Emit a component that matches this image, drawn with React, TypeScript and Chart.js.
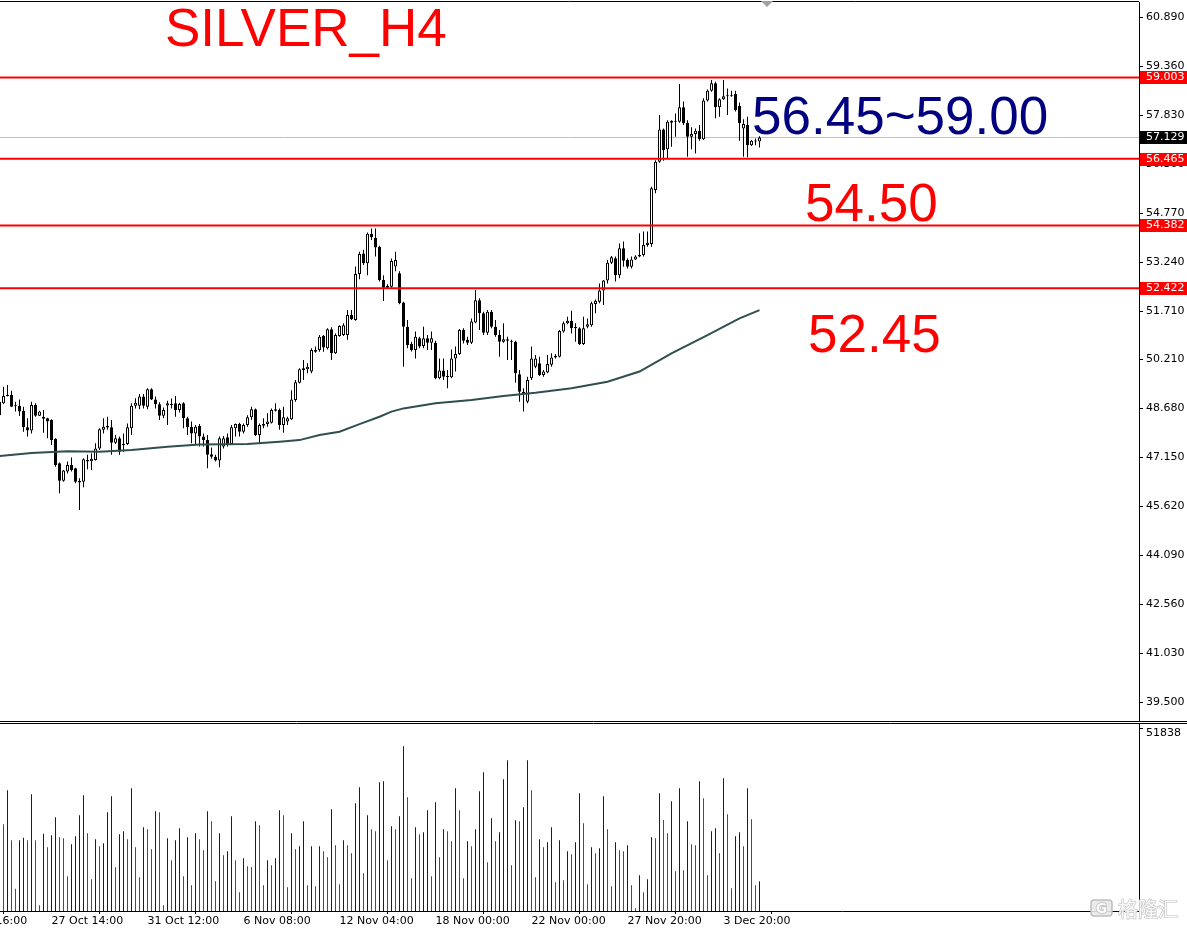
import React, { useEffect, useRef } from "react";
import { Chart, registerables } from "chart.js";

Chart.register(...registerables);

// ---- Candles (H4), index 0 .. 190 ----
const opens = [
  48.88, 48.83, 49.10, 49.09, 48.75, 48.75, 48.60, 48.08, 47.98, 48.78,
  48.44, 48.41, 48.36, 48.31, 47.72, 46.96, 46.41, 46.70, 46.90, 46.80,
  46.41, 46.38, 47.01, 47.02, 47.06, 47.42, 48.00, 48.12, 48.08, 47.60,
  47.74, 47.56, 47.56, 48.05, 48.75, 48.75, 49.04, 48.72, 49.27, 48.95,
  48.80, 48.44, 48.76, 48.78, 48.83, 48.62, 48.83, 48.36, 48.10, 47.89,
  48.12, 47.79, 47.68, 47.24, 47.16, 47.04, 47.48, 47.77, 47.56, 48.05,
  48.18, 47.94, 48.15, 48.39, 48.64, 47.84, 48.13, 48.18, 48.22, 48.64,
  48.62, 48.15, 48.26, 48.33, 48.93, 49.47, 49.92, 49.89, 49.82, 50.49,
  50.49, 50.93, 50.55, 51.14, 50.39, 50.93, 50.96, 50.96, 51.59, 51.43,
  52.87, 53.51, 53.20, 54.12, 54.00, 53.72, 52.68, 52.44, 52.47, 53.10,
  52.89, 51.98, 51.22, 50.68, 50.49, 50.86, 50.62, 50.86, 50.72, 50.72,
  49.61, 49.85, 49.68, 49.64, 50.23, 50.37, 51.12, 50.81, 50.72, 51.35,
  52.05, 51.64, 51.03, 51.69, 51.22, 50.96, 50.75, 50.83, 50.78, 50.75,
  49.74, 49.19, 48.88, 49.61, 49.97, 50.08, 49.71, 49.79, 50.03, 50.26,
  50.28, 51.07, 51.33, 51.41, 51.22, 51.17, 50.68, 51.22, 51.27, 51.93,
  52.00, 52.35, 52.66, 53.22, 53.36, 52.83, 53.67, 53.30, 53.09, 53.32,
  53.46, 53.46, 53.77, 53.80, 55.49, 56.37, 57.38, 56.76, 57.59, 57.64,
  57.62, 58.07, 57.59, 57.15, 57.24, 57.34, 57.07, 58.28, 58.59, 58.82,
  58.07, 58.32, 58.45, 58.42, 58.49, 58.11, 57.41, 57.52, 56.89, 57.00,
  57.00,
];
const highs = [
  48.98, 49.35, 49.40, 49.22, 48.88, 48.95, 48.72, 48.36, 48.88, 48.83,
  48.60, 48.62, 48.38, 48.33, 47.74, 46.98, 46.75, 47.01, 47.14, 46.82,
  46.49, 47.11, 47.22, 47.27, 47.58, 48.05, 48.36, 48.41, 48.31, 47.84,
  47.79, 47.89, 48.20, 48.83, 48.99, 49.12, 49.12, 49.30, 49.30, 49.04,
  48.86, 48.70, 48.91, 48.98, 49.06, 48.85, 48.86, 48.41, 48.26, 48.15,
  48.18, 47.89, 47.84, 47.45, 47.22, 47.79, 47.81, 47.89, 48.15, 48.20,
  48.22, 48.20, 48.46, 48.72, 48.67, 48.20, 48.36, 48.52, 48.67, 48.83,
  48.67, 48.72, 48.41, 49.24, 49.56, 49.92, 50.18, 50.08, 50.55, 50.60,
  50.96, 50.96, 51.17, 51.20, 51.01, 51.27, 51.33, 51.74, 51.74, 53.10,
  53.56, 53.62, 54.16, 54.29, 54.29, 53.75, 52.83, 52.55, 53.35, 53.56,
  52.95, 52.00, 51.43, 50.75, 51.07, 50.91, 51.22, 50.96, 51.07, 50.78,
  50.23, 50.23, 49.87, 50.51, 50.60, 51.15, 51.17, 50.91, 51.48, 52.37,
  52.11, 51.69, 51.74, 51.74, 51.43, 51.12, 51.33, 50.91, 50.81, 50.78,
  49.87, 49.30, 49.66, 50.60, 50.34, 50.28, 49.87, 50.34, 50.39, 50.37,
  51.12, 51.38, 51.53, 51.72, 51.33, 51.20, 51.53, 51.48, 52.00, 52.07,
  52.57, 52.68, 53.30, 53.43, 53.41, 53.82, 53.88, 53.36, 53.41, 53.45,
  54.14, 54.19, 54.19, 55.59, 56.42, 57.83, 57.41, 57.67, 57.67, 57.88,
  58.80, 58.25, 57.67, 57.45, 57.41, 57.52, 58.35, 58.63, 58.92, 58.87,
  58.35, 58.92, 58.66, 58.59, 58.59, 58.22, 57.70, 57.78, 57.05, 57.10,
  57.17,
];
const lows = [
  48.41, 48.81, 49.04, 48.72, 48.57, 48.43, 47.94, 47.79, 47.89, 48.41,
  48.43, 47.91, 47.74, 47.53, 46.85, 46.02, 46.38, 46.64, 46.70, 46.33,
  45.50, 46.21, 46.77, 46.75, 47.04, 47.37, 47.89, 48.00, 47.22, 47.56,
  47.22, 47.32, 47.53, 47.84, 48.67, 48.64, 48.67, 48.64, 48.93, 48.67,
  48.31, 48.36, 48.15, 48.67, 48.41, 48.54, 48.05, 47.84, 47.58, 47.56,
  47.48, 47.48, 46.80, 47.10, 47.01, 46.83, 47.42, 47.48, 47.53, 47.79,
  47.79, 47.89, 48.10, 48.31, 47.81, 47.60, 48.05, 48.10, 48.20, 48.57,
  48.00, 47.91, 48.15, 48.31, 48.88, 49.45, 49.56, 49.77, 49.77, 50.41,
  50.44, 50.44, 50.51, 50.18, 50.37, 50.91, 50.93, 50.81, 51.43, 51.41,
  52.70, 53.15, 52.83, 53.93, 53.41, 52.63, 52.02, 52.40, 52.44, 52.95,
  51.92, 49.97, 50.55, 50.45, 50.23, 50.55, 50.55, 50.49, 50.49, 49.58,
  49.58, 49.56, 49.30, 49.61, 49.82, 50.34, 50.70, 50.65, 50.68, 51.33,
  51.12, 50.96, 50.96, 51.17, 50.91, 50.28, 50.72, 50.18, 50.18, 49.47,
  48.88, 48.57, 48.83, 49.56, 49.92, 49.68, 49.66, 49.77, 49.97, 50.23,
  50.26, 51.03, 51.30, 51.01, 50.75, 50.65, 50.65, 51.17, 51.22, 51.64,
  51.95, 51.90, 52.57, 53.18, 52.63, 52.73, 53.09, 53.04, 53.04, 53.30,
  53.39, 53.41, 53.72, 53.72, 55.39, 56.34, 56.40, 56.48, 56.84, 57.15,
  57.59, 57.52, 56.53, 56.76, 56.63, 57.03, 57.05, 58.25, 58.56, 57.73,
  57.78, 58.30, 57.83, 58.40, 57.94, 57.03, 56.53, 56.51, 56.86, 56.89,
  56.82,
];
const closes = [
  48.46, 49.06, 49.06, 48.72, 48.74, 48.57, 48.08, 47.98, 48.78, 48.44,
  48.57, 48.35, 48.26, 47.68, 46.90, 46.41, 46.73, 46.90, 46.75, 46.38,
  46.36, 47.08, 47.06, 47.10, 47.42, 48.02, 48.10, 48.07, 47.60, 47.74,
  47.32, 47.52, 48.08, 48.75, 48.85, 49.04, 48.75, 49.27, 48.95, 48.80,
  48.44, 48.62, 48.83, 48.81, 48.62, 48.81, 48.36, 48.08, 47.89, 48.10,
  47.79, 47.68, 47.22, 47.16, 47.04, 47.74, 47.74, 47.56, 48.08, 48.18,
  47.94, 48.15, 48.39, 48.64, 47.84, 48.15, 48.18, 48.26, 48.62, 48.60,
  48.15, 48.39, 48.36, 48.95, 49.49, 49.89, 49.87, 49.97, 50.49, 50.44,
  50.91, 50.57, 51.14, 50.39, 50.96, 51.24, 51.27, 51.59, 51.45, 52.87,
  53.49, 53.20, 54.12, 54.01, 53.69, 52.68, 52.44, 52.50, 53.27, 53.30,
  51.95, 51.22, 50.65, 50.49, 50.91, 50.60, 50.86, 50.72, 50.86, 49.61,
  49.85, 49.66, 49.64, 50.23, 50.37, 51.12, 50.78, 50.72, 51.38, 52.05,
  51.64, 51.03, 51.69, 51.22, 50.96, 50.75, 50.83, 50.78, 50.75, 49.77,
  49.19, 49.12, 49.56, 50.23, 50.23, 49.71, 49.82, 50.06, 50.26, 50.31,
  51.09, 51.33, 51.41, 51.17, 51.17, 50.68, 51.17, 51.30, 51.95, 52.03,
  52.35, 52.66, 53.22, 53.39, 52.83, 53.67, 53.28, 53.09, 53.32, 53.41,
  53.41, 53.77, 53.84, 55.54, 56.37, 57.38, 56.74, 57.62, 57.65, 57.62,
  58.07, 57.57, 57.15, 57.24, 57.34, 57.07, 58.28, 58.59, 58.82, 58.07,
  58.32, 58.42, 58.42, 58.45, 57.99, 57.57, 57.55, 56.89, 57.03, 57.03,
  57.13,
];
const volumes = [
  null, 24600, 34250, 20050, 6340, 20060, 20810, 20050, 33110, 20050,
  1610, 21950, 18070, 21470, 26580, 20910, 20620, 9840, 18920, 21190,
  27150, 32830, 22040, 8990, 20340, 18350, 19200, 28000, 32540, 12390,
  21760, 22610, 20340, 34810, 18070, 9560, 23750, 23180, 17500, 28290,
  28000, 1610, 20620, 14380, 20050, 23460, 9840, 20910, 7280, 22040,
  20340, 17220, 28290, 25450, 8420, 22040, 15800, 16930, 26870, 14380,
  5300, 14950, 12680, 12490, 25450, 24310, 7280, 14380, 12960, 14950,
  28570, 27150, 6720, 22040, 17500, 18350, 25450, 7280, 18350, 7000,
  18350, 16930, 15230, 28850, 18640, 7570, 20050, 18640, 16370, 30560,
  35100, 10690, 27150, 23180, 22610, 36520, 36800, 14380, 24030, 23180,
  26870, 46730, 32260, 9270, 23750, 21760, 22330, 28570, 9840, 30840,
  15230, 23180, 22610, 19770, 34810, 28570, 9270, 19770, 18350, 23180,
  33960, 39350, 13810, 26300, 19770, 22330, 37370, 42760, 12960, 25730,
  25450, 29420, 42760, 34250, 9560, 20340, 18070, 19490, 23750, 8140,
  20050, 8700, 16930, 16080, 19490, 33390, 24880, 7570, 18070, 16370,
  17790, 32540, 23180, 7000, 19490, 17220, 16930, 18640, 7280, 760,
  10120, 5300, 8990, 20910, 20620, 33390, 25830, 22040, 31120, 11260,
  34810, 11540, 25450, 18920, 18640, 36800, 31980, 10120, 22610, 23460,
  16370, 37650, 27430, 6430, 21190, 22330, 18350, 34810, 26020, 7280,
  8420,
];

// ---- Moving average read at candle indices ----
const maIndex = [0, 8, 17, 25, 33, 42, 50, 62, 70, 75, 80, 85, 90, 95, 98, 101, 109, 118, 126, 134, 143, 152, 160, 168, 177, 185, 190];
const maValues = [47.18, 47.28, 47.33, 47.32, 47.37, 47.47, 47.54, 47.56, 47.63, 47.68, 47.84, 47.94, 48.18, 48.41, 48.57, 48.67, 48.83, 48.93, 49.06, 49.16, 49.30, 49.50, 49.82, 50.39, 50.96, 51.48, 51.74];

// ---- Horizontal levels and labels ----
const levelValues = [59.003, 56.465, 54.382, 52.422];
const lastPrice = 57.129;
const priceTickLabels = ["60.890", "59.360", "57.830", "56.300", "54.770", "53.240", "51.710", "50.210", "48.680", "47.150", "45.620", "44.090", "42.560", "41.030", "39.500"];
const volumeTickValues = [51838];
const volumeTickLabels = ["51838"];
const timeTickIndex = [-11, 13, 37, 61, 85, 109, 133, 157, 181];
const timeTickLabels = ["23 Oct 16:00", "27 Oct 14:00", "31 Oct 12:00", "6 Nov 08:00", "12 Nov 04:00", "18 Nov 00:00", "22 Nov 00:00", "27 Nov 20:00", "3 Dec 20:00"];
const titleText = "SILVER_H4";
const zoneText = "56.45~59.00";
const levelTextA = "54.50";
const levelTextB = "52.45";
const watermarkText = "格隆汇";

const AXIS_FONT = { family: "DejaVu Sans", size: 11 };
const PRICE_X_MIN = 0.125;
const PRICE_X_MAX = 284.875;
const VOL_X_MIN = -12.375;

function priceConfig(): any {
  const idx = opens.map((_, i) => i);
  const datasets: any[] = [];
  levelValues.forEach((v) =>
    datasets.push({
      type: "line",
      data: [{ x: PRICE_X_MIN, y: v }, { x: PRICE_X_MAX, y: v }],
      borderColor: "#ff0000",
      borderWidth: 2,
      pointRadius: 0,
      order: 0,
    })
  );
  datasets.push({
    type: "line",
    data: maIndex.map((x, i) => ({ x, y: maValues[i] })),
    borderColor: "#2f4f4f",
    borderWidth: 2,
    pointRadius: 0,
    tension: 0,
    order: 1,
  });
  datasets.push({
    type: "bar",
    data: idx.map((i) => ({ x: i, y: [Math.min(opens[i], closes[i]), Math.max(opens[i], closes[i])] })),
    backgroundColor: idx.map((i) => (closes[i] >= opens[i] ? "#ffffff" : "#000000")),
    borderColor: "#000000",
    borderWidth: 1,
    borderSkipped: false,
    barPercentage: 1,
    categoryPercentage: 1,
    maxBarThickness: 3,
    minBarLength: 1,
    grouped: false,
    inflateAmount: 0,
    order: 2,
  });
  datasets.push({
    type: "bar",
    data: idx.map((i) => ({ x: i, y: [lows[i], highs[i]] })),
    backgroundColor: "#000000",
    borderWidth: 0,
    barPercentage: 1,
    categoryPercentage: 1,
    maxBarThickness: 1,
    grouped: false,
    inflateAmount: 0,
    order: 3,
  });
  datasets.push({
    type: "line",
    data: [{ x: PRICE_X_MIN, y: lastPrice }, { x: PRICE_X_MAX, y: lastPrice }],
    borderColor: "#c0c0c0",
    borderWidth: 1,
    pointRadius: 0,
    order: 4,
  });

  const overlay = {
    id: "priceOverlay",
    afterDraw(chart: any) {
      const ctx = chart.ctx;
      const ys = chart.scales.y;
      const area = chart.chartArea;
      ctx.save();
      ctx.strokeStyle = "#000";
      ctx.lineWidth = 1;
      ctx.beginPath();
      ctx.moveTo(0, 1.5);
      ctx.lineTo(area.right, 1.5);
      ctx.moveTo(0, 721.5);
      ctx.lineTo(area.right + 48, 721.5);
      ctx.stroke();

      // price boxes on the axis
      ctx.font = '11px "DejaVu Sans"';
      ctx.textAlign = "left";
      ctx.textBaseline = "middle";
      const box = (v: number, bg: string) => {
        const py = ys.getPixelForValue(v);
        ctx.fillStyle = bg;
        ctx.fillRect(area.right + 1, Math.round(py) - 6, 48, 13);
        ctx.fillStyle = "#ffffff";
        ctx.fillText(v.toFixed(3), area.right + 7, Math.round(py) + 0.5);
      };
      levelValues.forEach((v) => box(v, "#ff0000"));
      box(lastPrice, "#000000");

      // shift marker
      ctx.fillStyle = "#a0a0a0";
      ctx.beginPath();
      ctx.moveTo(761, 1);
      ctx.lineTo(773, 1);
      ctx.lineTo(767, 7);
      ctx.closePath();
      ctx.fill();

      // text objects
      ctx.textBaseline = "alphabetic";
      ctx.font = '53px "Liberation Sans"';
      ctx.fillStyle = "#ff0000";
      ctx.fillText(titleText, 165, 46);
      ctx.fillStyle = "#000080";
      ctx.fillText(zoneText, 752, 134);
      ctx.fillStyle = "#ff0000";
      ctx.fillText(levelTextA, 805, 221);
      ctx.fillText(levelTextB, 808, 352);
      ctx.restore();
    },
  };

  return {
    type: "bar",
    data: { datasets },
    options: {
      animation: false,
      responsive: false,
      devicePixelRatio: 1,
      events: [],
      layout: { padding: { top: 2, bottom: 1, left: 0, right: 0 } },
      plugins: { legend: { display: false }, tooltip: { enabled: false } },
      scales: {
        x: { type: "linear", min: PRICE_X_MIN, max: PRICE_X_MAX, display: false, offset: false },
        y: {
          type: "linear",
          position: "right",
          min: 38.91,
          max: 61.359,
          bounds: "data",
          afterBuildTicks: (s: any) => {
            s.ticks = priceTickLabels.map((l) => ({ value: parseFloat(l) }));
          },
          afterFit: (s: any) => {
            s.width = 48;
            s.paddingTop = 0;
            s.paddingBottom = 0;
          },
          ticks: {
            callback: (_v: any, i: number) => priceTickLabels[i],
            font: AXIS_FONT,
            color: "#000",
            padding: 3,
            autoSkip: false,
          },
          grid: { drawOnChartArea: false, drawTicks: true, tickLength: 4, color: "#000" },
          border: { display: true, color: "#000", width: 1 },
        },
      },
    },
    plugins: [overlay],
  };
}

function volumeConfig(): any {
  const idx = volumes.map((_, i) => i);
  const colors = idx.map((i) =>
    i > 0 && volumes[i - 1] != null && (volumes[i] as number) > (volumes[i - 1] as number) ? "#0000ff" : "#ff0000"
  );
  const overlay = {
    id: "volOverlay",
    afterDraw(chart: any) {
      const ctx = chart.ctx;
      const area = chart.chartArea;
      ctx.save();
      ctx.strokeStyle = "#000";
      ctx.lineWidth = 1;
      ctx.beginPath();
      ctx.moveTo(50, 1.5);
      ctx.lineTo(area.right + 48, 1.5);
      ctx.stroke();

      // watermark
      ctx.globalAlpha = 0.9;
      ctx.strokeStyle = "#b8b8b8";
      ctx.fillStyle = "#e8e8e8";
      ctx.lineWidth = 1.5;
      const rx = 1141, ry = 178, rw = 21, rh = 16;
      ctx.beginPath();
      ctx.moveTo(rx + 3, ry);
      ctx.lineTo(rx + rw - 3, ry);
      ctx.quadraticCurveTo(rx + rw, ry, rx + rw, ry + 3);
      ctx.lineTo(rx + rw, ry + rh - 3);
      ctx.quadraticCurveTo(rx + rw, ry + rh, rx + rw - 3, ry + rh);
      ctx.lineTo(rx + 3, ry + rh);
      ctx.quadraticCurveTo(rx, ry + rh, rx, ry + rh - 3);
      ctx.lineTo(rx, ry + 3);
      ctx.quadraticCurveTo(rx, ry, rx + 3, ry);
      ctx.closePath();
      ctx.fill();
      ctx.stroke();
      ctx.font = 'bold 14px "DejaVu Sans"';
      ctx.textAlign = "center";
      ctx.textBaseline = "middle";
      ctx.fillStyle = "#ffffff";
      ctx.strokeText("G", rx + rw / 2, ry + rh / 2 + 1);
      ctx.fillText("G", rx + rw / 2, ry + rh / 2 + 1);
      ctx.font = '20px "Noto Sans CJK SC"';
      ctx.textAlign = "left";
      ctx.textBaseline = "alphabetic";
      ctx.lineWidth = 1.2;
      ctx.strokeText(watermarkText, 1168, 195);
      ctx.fillText(watermarkText, 1168, 195);
      ctx.restore();
    },
  };

  return {
    type: "bar",
    data: {
      datasets: [
        {
          type: "bar",
          data: idx.map((i) => ({ x: i, y: volumes[i] })),
          backgroundColor: colors,
          borderWidth: 0,
          barPercentage: 1,
          categoryPercentage: 1,
          maxBarThickness: 1,
          grouped: false,
          inflateAmount: 0,
        },
      ],
    },
    options: {
      animation: false,
      responsive: false,
      devicePixelRatio: 1,
      events: [],
      layout: { padding: { top: 2, bottom: 0, left: 0, right: 0 } },
      plugins: { legend: { display: false }, tooltip: { enabled: false } },
      scales: {
        x: {
          type: "linear",
          position: "bottom",
          min: VOL_X_MIN,
          max: PRICE_X_MAX,
          offset: false,
          bounds: "data",
          afterBuildTicks: (s: any) => {
            s.ticks = timeTickIndex.map((v) => ({ value: v }));
          },
          afterFit: (s: any) => {
            s.height = 21;
            s.paddingLeft = 0;
            s.paddingRight = 0;
          },
          ticks: {
            callback: (_v: any, i: number) => timeTickLabels[i],
            align: "start",
            font: AXIS_FONT,
            color: "#000",
            padding: 1,
            maxRotation: 0,
            minRotation: 0,
            autoSkip: false,
          },
          grid: { drawOnChartArea: false, drawTicks: true, tickLength: 3, color: "#000" },
          border: { display: true, color: "#000", width: 1, dash: [2, 1] },
        },
        y: {
          type: "linear",
          position: "right",
          min: 0,
          max: 53050,
          bounds: "data",
          afterBuildTicks: (s: any) => {
            s.ticks = volumeTickValues.map((v) => ({ value: v }));
          },
          afterFit: (s: any) => {
            s.width = 48;
            s.paddingTop = 0;
            s.paddingBottom = 0;
          },
          ticks: {
            callback: (_v: any, i: number) => volumeTickLabels[i],
            font: AXIS_FONT,
            color: "#000",
            padding: 3,
            labelOffset: 5,
            autoSkip: false,
          },
          grid: { drawOnChartArea: false, drawTicks: true, tickLength: 4, color: "#000" },
          border: { display: true, color: "#000", width: 1 },
        },
      },
    },
    plugins: [overlay],
  };
}

export default function App() {
  const priceRef = useRef<HTMLCanvasElement>(null);
  const volRef = useRef<HTMLCanvasElement>(null);

  useEffect(() => {
    const pc = new Chart(priceRef.current as HTMLCanvasElement, priceConfig());
    const vc = new Chart(volRef.current as HTMLCanvasElement, volumeConfig());
    return () => {
      pc.destroy();
      vc.destroy();
    };
  }, []);

  return (
    <div
      style={{
        position: "absolute",
        left: 0,
        top: 0,
        width: 1187,
        height: 932,
        overflow: "hidden",
        background: "#ffffff",
      }}
    >
      <canvas
        ref={priceRef}
        width={1187}
        height={722}
        style={{ position: "absolute", left: 0, top: 0, width: 1187, height: 722 }}
      />
      <canvas
        ref={volRef}
        width={1237}
        height={210}
        style={{ position: "absolute", left: -50, top: 722, width: 1237, height: 210 }}
      />
    </div>
  );
}
